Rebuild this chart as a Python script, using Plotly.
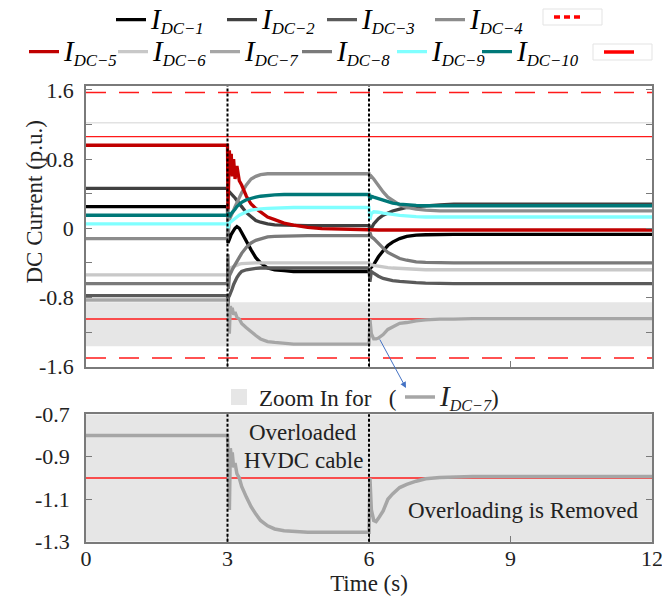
import plotly.graph_objects as go

FONT = "Liberation Serif"
W, H = 662, 598

# ---------------- data ----------------
t = [0, 2.99, 3.0, 3.01, 3.02, 3.04, 3.06, 3.08, 3.1, 3.13, 3.16, 3.2, 3.25, 3.3, 3.4, 3.5,
     3.6, 3.7, 3.85, 4.0, 4.2, 4.4, 4.7, 5.0, 5.5, 5.99, 6.0, 6.02, 6.05, 6.1, 6.15, 6.2,
     6.3, 6.4, 6.5, 6.65, 6.8, 7.0, 7.2, 7.5, 7.8, 8.2, 9.0, 12.0]

i_dc1 = [0.25, 0.25, 0.25,
         -0.17, -0.15, -0.12, -0.1, -0.07, -0.05, -0.02, 0.0, 0.02, 0.0,
         -0.05, -0.16, -0.25, -0.34, -0.4, -0.46, -0.48, -0.49, -0.5, -0.5,
         -0.5, -0.5, -0.5,
         -0.5, -0.42, -0.45, -0.42, -0.37, -0.33, -0.26, -0.2, -0.16, -0.12,
         -0.095, -0.08, -0.075, -0.07, -0.07, -0.07, -0.07, -0.07]
i_dc2 = [0.46, 0.46, 0.46,
         0.4, 0.43, 0.42, 0.41, 0.40, 0.39, 0.37, 0.35, 0.32, 0.28,
         0.25, 0.18, 0.13, 0.09, 0.07, 0.05, 0.04, 0.035, 0.03, 0.03,
         0.03, 0.03, 0.03,
         0.03, -0.02, 0.0, 0.05, 0.08, 0.11, 0.15, 0.18, 0.2, 0.22,
         0.24, 0.25, 0.26, 0.27, 0.28, 0.28, 0.28, 0.28]
i_dc3 = [-0.78, -0.78, -0.78,
         -0.95, -0.8, -0.78, -0.76, -0.74, -0.7, -0.65, -0.61, -0.57, -0.53,
         -0.5, -0.48, -0.47, -0.465, -0.46, -0.46, -0.46, -0.46, -0.46, -0.46,
         -0.46, -0.46, -0.46,
         -0.46, -0.62, -0.5, -0.52, -0.54, -0.555, -0.58, -0.595, -0.605, -0.615,
         -0.625, -0.63, -0.635, -0.64, -0.64, -0.64, -0.64, -0.64]
i_dc4 = [-0.12, -0.12, -0.12,
         0.3, -0.05, 0.1, 0.12, 0.14, 0.17, 0.21, 0.25, 0.3, 0.36,
         0.41, 0.5, 0.57, 0.6, 0.62, 0.63, 0.63, 0.63, 0.63, 0.63,
         0.63, 0.63, 0.63,
         0.63, 0.58, 0.6, 0.57, 0.53, 0.49, 0.42, 0.36, 0.32, 0.27,
         0.24, 0.22, 0.21, 0.2, 0.2, 0.2, 0.2, 0.2]
i_dc5 = [0.96, 0.96, 0.96,
         0.22, 0.7, 0.9, 0.62, 0.86, 0.6, 0.8, 0.57, 0.72, 0.55,
         0.5, 0.37, 0.28, 0.23, 0.19, 0.13, 0.1, 0.06, 0.035, 0.01,
         -0.005, -0.015, -0.02,
         -0.02, -0.02, -0.02, -0.02, -0.02, -0.02, -0.02, -0.02, -0.02, -0.02,
         -0.02, -0.02, -0.02, -0.02, -0.02, -0.02, -0.02, -0.02]
i_dc6 = [-0.54, -0.54, -0.54,
         -0.5, -0.48, -0.47, -0.46, -0.455, -0.45, -0.44, -0.43, -0.42, -0.415,
         -0.41, -0.405, -0.4, -0.4, -0.4, -0.4, -0.4, -0.4, -0.4, -0.4,
         -0.4, -0.4, -0.4,
         -0.4, -0.43, -0.42, -0.43, -0.435, -0.44, -0.45, -0.455, -0.46, -0.465,
         -0.47, -0.475, -0.48, -0.48, -0.48, -0.48, -0.48, -0.48]
i_dc7 = [-0.83, -0.83, -0.83,
         -0.89, -1.0, -1.22, -0.9, -0.94, -0.92, -1.0, -0.97, -1.03, -1.05,
         -1.1, -1.15, -1.2, -1.24, -1.28, -1.31, -1.32, -1.33, -1.34, -1.34,
         -1.34, -1.34, -1.34,
         -1.34, -1.05, -1.22, -1.28, -1.28, -1.27, -1.23, -1.17, -1.14, -1.1,
         -1.09, -1.07, -1.06, -1.05, -1.05, -1.045, -1.045, -1.045]
i_dc8 = [-0.64, -0.64, -0.64,
         -0.3, -0.7, -0.55, -0.52, -0.5, -0.48, -0.45, -0.42, -0.38, -0.33,
         -0.29, -0.22, -0.17, -0.14, -0.12, -0.1, -0.095, -0.09, -0.085, -0.085,
         -0.085, -0.085, -0.085,
         -0.085, -0.05, -0.1, -0.12, -0.15, -0.18, -0.23, -0.28, -0.31, -0.35,
         -0.37, -0.39, -0.395, -0.4, -0.4, -0.4, -0.4, -0.4]
i_dc9 = [0.05, 0.05, 0.05,
         0.0, 0.04, 0.06, 0.07, 0.08, 0.09, 0.1, 0.12, 0.13, 0.15,
         0.16, 0.19, 0.21, 0.22, 0.225, 0.23, 0.235, 0.24, 0.24, 0.24,
         0.24, 0.24, 0.24,
         0.24, 0.1, 0.17, 0.19, 0.19, 0.185, 0.175, 0.165, 0.16, 0.15,
         0.14, 0.135, 0.13, 0.13, 0.13, 0.13, 0.13, 0.13]
i_dc10 = [0.15, 0.15, 0.15,
          0.18, 0.13, 0.16, 0.15, 0.17, 0.18, 0.2, 0.22, 0.25, 0.28,
          0.3, 0.33, 0.35, 0.36, 0.37, 0.38, 0.385, 0.39, 0.39, 0.39,
          0.39, 0.39, 0.39,
          0.39, 0.33, 0.37, 0.36, 0.35, 0.34, 0.32, 0.3, 0.29, 0.28,
          0.27, 0.265, 0.26, 0.26, 0.26, 0.26, 0.26, 0.26]
# I_DC-7 as read from the zoomed (lower) panel
i_dc7_zoom = [-0.8, -0.8, -0.8,
              -0.85, -0.95, -1.15, -0.86, -0.9, -0.88, -0.95, -0.93, -0.98, -1.0,
              -1.04, -1.09, -1.135, -1.17, -1.2, -1.225, -1.24, -1.248, -1.252, -1.255,
              -1.255, -1.255, -1.255,
              -1.255, -1.0, -1.15, -1.2, -1.205, -1.19, -1.155, -1.1, -1.075, -1.045,
              -1.03, -1.015, -1.004, -0.998, -0.995, -0.993, -0.993, -0.993]

series_names = ["DC−1", "DC−2", "DC−3", "DC−4", "DC−5",
                "DC−6", "DC−7", "DC−8", "DC−9", "DC−10"]
series_colors = ["#000000", "#404040", "#5a5a5a", "#8c8c8c", "#c00000",
                 "#c8c8c8", "#a6a6a6", "#7a7a7a", "#80ffff", "#007878"]
series = [i_dc1, i_dc2, i_dc3, i_dc4, i_dc5, i_dc6, i_dc7, i_dc8, i_dc9, i_dc10]

limit_dashed = [1.57, -1.5]      # outer red dashed limits
limit_solid = [1.06, -1.05]      # red solid limits (upper panel)
limit_zoom = -1.0                # red limit (lower panel)
band_upper = [-1.365, -0.857]    # grey zoom band in upper panel
zoom_window = [-1.3, -0.7]
light_line_level = 1.22
event_times = [3, 6]
t_span = [0, 12]

x_tickvals = [0, 3, 6, 9, 12]
x_ticktext = ["0", "3", "6", "9", "12"]
yu_tickvals = [1.6, 0.8, 0, -0.8, -1.6]
yu_ticktext = ["1.6", "0.8", "0", "-0.8", "-1.6"]
yu_minor = [1.2, 0.4, -0.4, -1.2]
yl_tickvals = [-0.7, -0.9, -1.1, -1.3]
yl_ticktext = ["-0.7", "-0.9", "-1.1", "-1.3"]

# legend entry anchor positions (pixel centre of each line sample)
legend_sample_centres = [(136, 20), (247, 20), (347, 20), (455, 20),
                         (49, 52), (138, 52), (230, 52), (322, 52), (417, 52), (502, 52)]


# ---------------- helpers ----------------
def fx(px):
    return px / W


def fy(py):
    return 1 - py / H


def lab(s):
    return "<span style='font-size:29px'><i>I</i></span><sub><i>%s</i></sub>" % s


fig = go.Figure()

# limit lines (upper panel)
fig.add_trace(go.Scatter(x=[t_span[0], t_span[1], None, t_span[0], t_span[1]],
                         y=[limit_dashed[0], limit_dashed[0], None, limit_dashed[1], limit_dashed[1]],
                         mode="lines", line=dict(color="#ff1a1a", width=1.6, dash="20px,13px"),
                         showlegend=False, xaxis="x", yaxis="y"))
fig.add_trace(go.Scatter(x=[t_span[0], t_span[1], None, t_span[0], t_span[1]],
                         y=[limit_solid[0], limit_solid[0], None, limit_solid[1], limit_solid[1]],
                         mode="lines", line=dict(color="#ff1a1a", width=1.4),
                         showlegend=False, xaxis="x", yaxis="y"))

legend_common = dict(orientation="h", bgcolor="rgba(0,0,0,0)", xanchor="left", yanchor="middle",
                     itemwidth=30, tracegroupgap=0)
leg_font = dict(family=FONT, size=24, color="#000000")
box_font = dict(family=FONT, size=8, color="#000000")
legend_layout = {}

# series: each entry gets its own single-item legend so it can sit where the reference has it
for k, (vals, nm, col) in enumerate(zip(series, series_names, series_colors)):
    lg = "legend" if k == 0 else "legend%d" % (k + 1)
    fig.add_trace(go.Scatter(x=t, y=vals, mode="lines", name=lab(nm),
                             line=dict(color=col, width=3.3), legend=lg,
                             xaxis="x", yaxis="y"))
    cx, cy = legend_sample_centres[k]
    legend_layout[lg] = dict(x=fx(cx - 25), y=fy(cy), font=leg_font, **legend_common)

# legend-only samples of the red limit lines (boxed legends)
fig.add_trace(go.Scatter(x=[None], y=[None], mode="lines", name="\u00a0",
                         line=dict(color="#ff0000", width=3.5, dash="6px,4px"),
                         legend="legend11"))
fig.add_trace(go.Scatter(x=[None], y=[None], mode="lines", name="\u00a0",
                         line=dict(color="#ff0000", width=3.5),
                         legend="legend12"))
legend_layout["legend11"] = dict(x=fx(549), y=fy(17), font=box_font, **legend_common)
legend_layout["legend12"] = dict(x=fx(599), y=fy(52), font=box_font, **legend_common)

# lower panel
fig.add_trace(go.Scatter(x=[t_span[0], t_span[1]], y=[limit_zoom, limit_zoom], mode="lines",
                         line=dict(color="#ff1a1a", width=1.6), showlegend=False,
                         xaxis="x2", yaxis="y2"))
fig.add_trace(go.Scatter(x=[None], y=[None], mode="markers",
                         name="Zoom In for\u00a0\u00a0\u00a0(",
                         marker=dict(symbol="square", size=16, color="#e6e6e6"),
                         legend="legend13", xaxis="x2", yaxis="y2"))
fig.add_trace(go.Scatter(x=t, y=i_dc7_zoom, mode="lines", name=lab("DC−7") + ")",
                         line=dict(color="#a6a6a6", width=3.5), legend="legend13",
                         xaxis="x2", yaxis="y2"))
legend_layout["legend13"] = dict(x=fx(219), y=fy(397), entrywidth=136, entrywidthmode="pixels",
                                 font=dict(family=FONT, size=23, color="#222222"), **legend_common)

# ---------------- shapes ----------------
shapes = [
    dict(type="rect", xref="x domain", yref="y", x0=0, x1=1, y0=band_upper[0], y1=band_upper[1],
         fillcolor="#e6e6e6", line=dict(width=0), layer="below"),
    dict(type="line", xref="x domain", yref="y", x0=0, x1=1, y0=light_line_level, y1=light_line_level,
         line=dict(color="#e2e2e2", width=1.5), layer="below"),
    dict(type="rect", xref="x2 domain", yref="y2", x0=0, x1=1, y0=zoom_window[0], y1=zoom_window[1],
         fillcolor="#e6e6e6", line=dict(width=0), layer="below"),
    # frames of the two boxed legend entries
    dict(type="rect", xref="paper", yref="paper", x0=fx(543), x1=fx(602), y0=fy(25), y1=fy(9),
         line=dict(color="#e3e3e3", width=1)),
    dict(type="rect", xref="paper", yref="paper", x0=fx(593), x1=fx(652), y0=fy(60), y1=fy(44),
         line=dict(color="#e3e3e3", width=1)),
]
for ev in event_times:
    for xr, yr in (("x", "y domain"), ("x2", "y2 domain")):
        shapes.append(dict(type="line", xref=xr, yref=yr, x0=ev, x1=ev, y0=0, y1=1,
                           line=dict(color="#000000", width=2, dash="3px,2px")))

# ---------------- annotations ----------------
annotations = [
    dict(text="DC Current (p.u.)", textangle=-90, x=fx(19), y=fy(202), xref="paper", yref="paper",
         showarrow=False, font=dict(family=FONT, size=23, color="#222222")),
    dict(text="Overloaded", x=4.6, y=-0.787, xref="x2", yref="y2", showarrow=False,
         font=dict(family=FONT, size=23, color="#222222")),
    dict(text="HVDC cable", x=4.62, y=-0.916, xref="x2", yref="y2", showarrow=False,
         font=dict(family=FONT, size=23, color="#222222")),
    dict(text="Overloading is Removed", x=9.27, y=-1.152, xref="x2", yref="y2", showarrow=False,
         font=dict(family=FONT, size=23, color="#222222")),
    dict(text="", x=fx(406), y=fy(388), xref="paper", yref="paper", showarrow=True,
         ax=-27, ay=-50, arrowhead=2, arrowsize=1.2, arrowwidth=1, arrowcolor="#4472c4"),
]

axis_common = dict(showline=True, linecolor="#7a7a7a", linewidth=1.5, ticks="inside",
                   ticklen=6, tickcolor="#7a7a7a", tickwidth=1.2, showgrid=False, zeroline=False,
                   automargin=False, ticklabeloverflow="allow",
                   tickfont=dict(family=FONT, size=22, color="#222222"))

fig.update_layout(
    width=W, height=H, autosize=False,
    margin=dict(l=0, r=0, t=0, b=0, pad=0, autoexpand=False),
    paper_bgcolor="white", plot_bgcolor="white",
    font=dict(family=FONT, color="#222222"),
    xaxis=dict(domain=[fx(86), fx(652)], range=t_span, anchor="y",
               tickvals=x_tickvals, ticktext=x_ticktext, showticklabels=False, mirror=True,
               **axis_common),
    yaxis=dict(domain=[fy(366.6), fy(86)], range=[-1.6, 1.645], anchor="x",
               tickvals=yu_tickvals, ticktext=yu_ticktext, mirror="ticks", ticklabelstandoff=6,
               minor=dict(tickvals=yu_minor, ticks="inside", ticklen=6, tickcolor="#7a7a7a"),
               **axis_common),
    xaxis2=dict(domain=[fx(86), fx(652)], range=t_span, anchor="y2",
                tickvals=x_tickvals, ticktext=x_ticktext, mirror=True, ticklabelstandoff=-4,
                title=dict(text="Time (s)", font=dict(family=FONT, size=23, color="#222222"),
                           standoff=4),
                **axis_common),
    yaxis2=dict(domain=[fy(541.7), fy(414.3)], range=zoom_window, anchor="x2",
                tickvals=yl_tickvals, ticktext=yl_ticktext, mirror="ticks", ticklabelstandoff=10,
                **axis_common),
    shapes=shapes,
    annotations=annotations,
    **legend_layout,
)

fig.write_html("out.html")
